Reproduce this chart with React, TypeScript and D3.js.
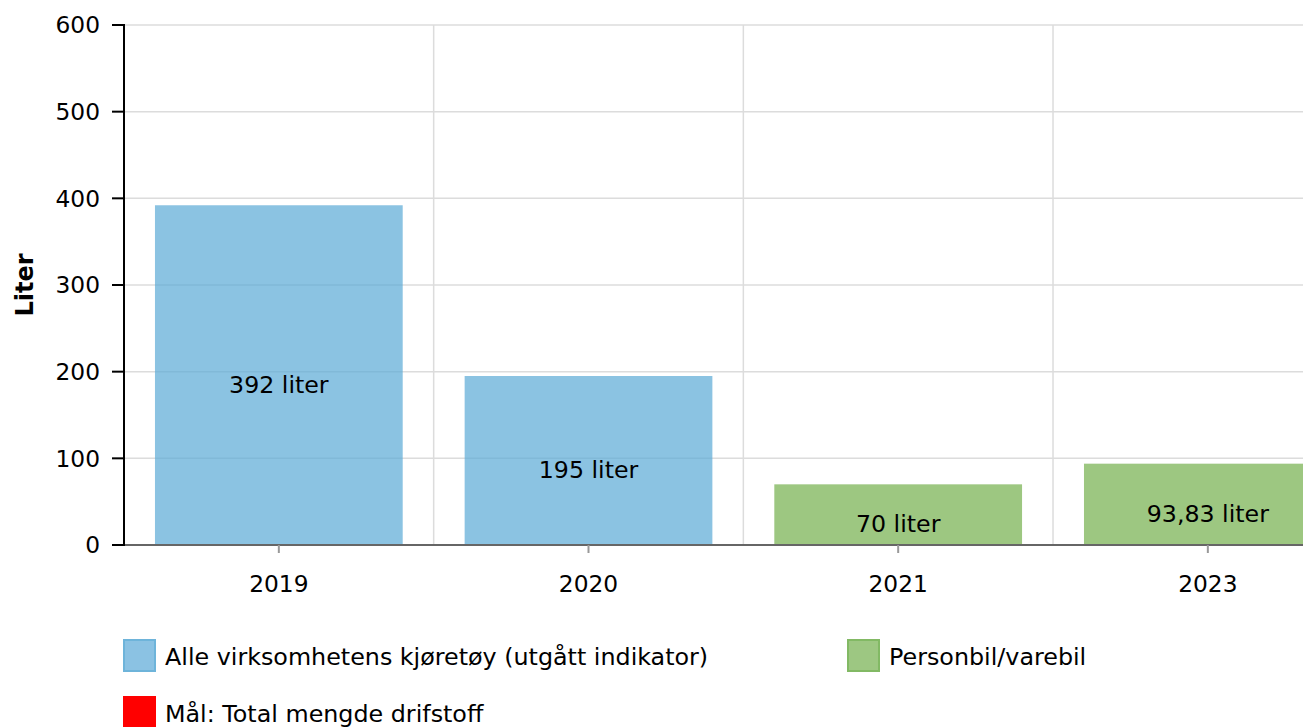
import React from "react";
import * as d3 from "d3";

const categories = ["2019", "2020", "2021", "2023"];
const values = [392, 195, 70, 93.83];
const valueLabels = ["392 liter", "195 liter", "70 liter", "93,83 liter"];
const seriesOf = [0, 0, 1, 1];
const seriesNames = ["Alle virksomhetens kjøretøy (utgått indikator)", "Personbil/varebil", "Mål: Total mengde drifstoff"];
const yTicks = [0, 100, 200, 300, 400, 500, 600];
const yTitle = "Liter";

const W = 1303;
const H = 727;
const left = 124;
const top = 25;
const bottom = 545;
const bandW = 309.67;
const FONT = "'DejaVu Sans', Verdana, sans-serif";

const barFill = ["rgb(90,169,214)", "rgb(115,175,76)"];
const legendFill = ["rgb(139,194,227)", "rgb(157,199,130)", "#ff0000"];
const legendStroke = ["rgb(110,180,218)", "rgb(130,185,100)", "#ff0000"];

export default function App() {
  const xb = d3.scaleBand<string>().domain(categories).range([left, left + bandW * categories.length]);
  const y = d3.scaleLinear().domain([0, 600]).range([bottom, top]);

  const legendItems = [
    { x: 123, y: 639, i: 0 },
    { x: 847, y: 639, i: 1 },
    { x: 123, y: 696, i: 2 },
  ];

  return (
    <div style={{ position: "absolute", left: 0, top: 0 }}>
      <svg width={W} height={H} style={{ display: "block", background: "#fff" }} fontFamily={FONT}>
        {yTicks.filter((t) => t > 0).map((t) => (
          <line key={"h" + t} x1={left} x2={W} y1={y(t)} y2={y(t)} stroke="#dcdcdc" strokeWidth={1.5} />
        ))}
        {categories.slice(1).map((c) => (
          <line key={"v" + c} x1={xb(c)!} x2={xb(c)!} y1={top} y2={bottom} stroke="#dcdcdc" strokeWidth={1.5} />
        ))}
        {categories.map((c, i) => {
          const bx = xb(c)! + bandW * 0.1;
          const bw = bandW * 0.8;
          return (
            <rect key={"b" + c} x={bx} y={y(values[i])} width={bw} height={bottom - y(values[i])} fill={barFill[seriesOf[i]]} fillOpacity={0.7} />
          );
        })}
        {categories.map((c, i) => {
          const cx = xb(c)! + bandW / 2;
          const cy = (y(values[i]) + bottom) / 2 + 17.5;
          return (
            <text key={"l" + c} x={cx} y={cy} textAnchor="middle" fontSize={23.7} fill="#000">
              {valueLabels[i]}
            </text>
          );
        })}
        <line x1={left} x2={W} y1={bottom} y2={bottom} stroke="#666" strokeWidth={2} />
        {categories.map((c) => {
          const cx = xb(c)! + bandW / 2;
          return (
            <g key={"xt" + c}>
              <line x1={cx} x2={cx} y1={bottom} y2={bottom + 8} stroke="#999" strokeWidth={2} />
              <text x={cx} y={591.5} textAnchor="middle" fontSize={23.3} fill="#000">{c}</text>
            </g>
          );
        })}
        <line x1={left} x2={left} y1={top - 1} y2={bottom + 1} stroke="#000" strokeWidth={2} />
        {yTicks.map((t) => (
          <g key={"yt" + t}>
            <line x1={112} x2={left} y1={y(t)} y2={y(t)} stroke="#000" strokeWidth={2} />
            <text x={100} y={y(t)} dy="0.36em" textAnchor="end" fontSize={23.3} fill="#000">{t}</text>
          </g>
        ))}
        <text transform={`translate(33,285) rotate(-90)`} textAnchor="middle" fontSize={24} fontWeight="bold" fill="#000">{yTitle}</text>
        {legendItems.map((it) => (
          <g key={"lg" + it.i}>
            <rect x={it.x + 1} y={it.y + 1} width={31} height={31} fill={legendFill[it.i]} stroke={legendStroke[it.i]} strokeWidth={2} />
            <text x={it.x + 42} y={it.y + 26} fontSize={23.8} fill="#000">{seriesNames[it.i]}</text>
          </g>
        ))}
      </svg>
    </div>
  );
}
